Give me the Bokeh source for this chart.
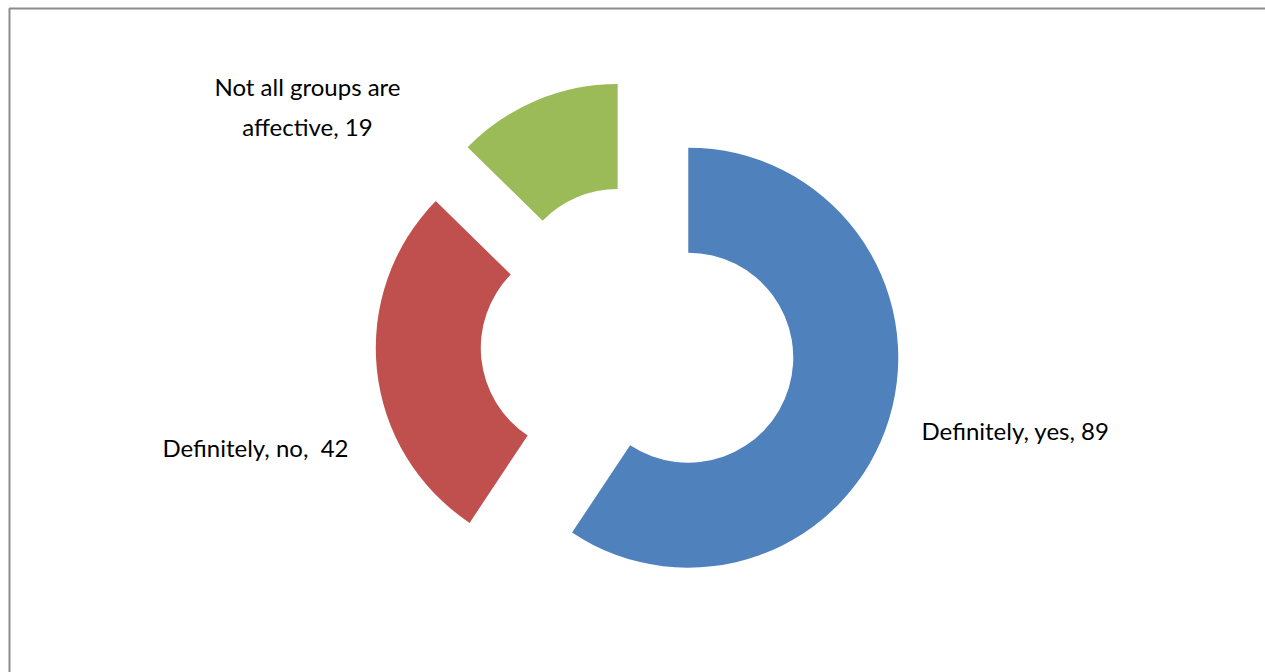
import math
from bokeh.plotting import figure
from bokeh.models import Range1d, ColumnDataSource
from bokeh.core.properties import value
from bokeh.embed import file_html
from bokeh.resources import INLINE

# ---- data ----
categories = ["Definitely, yes", "Definitely, no", "Not all groups are affective"]
values = [89, 42, 19]
label_texts = ["Definitely, yes, 89", "Definitely, no,\u00a0 42", "Not all groups are\naffective, 19"]
colors = ["#4F81BD", "#C0504D", "#9BBB59"]

# ---- layout ----
W, H = 1265, 672
cx, cy = 637.5, 330.0          # donut centre (pixel-like data units)
r_in, r_out = 105.0, 210.0
explode = 52.5
# label anchors: (x, y, align)
label_pos = [(921, 242, "left"), (348, 225, "right"), (307, 566, "center")]

total = float(sum(values))
starts, ends, xs, ys = [], [], [], []
a = math.pi / 2
for v in values:
    sweep = 2 * math.pi * v / total
    s, e = a, a - sweep
    mid = (s + e) / 2
    starts.append(s)
    ends.append(e)
    xs.append(cx + explode * math.cos(mid))
    ys.append(cy + explode * math.sin(mid))
    a = e

src = ColumnDataSource(dict(x=xs, y=ys, start=starts, end=ends, color=colors, cat=categories))

p = figure(width=W, height=H, output_backend="svg", toolbar_location=None,
           x_range=Range1d(0, W), y_range=Range1d(0, H), min_border=0,
           outline_line_color=None, background_fill_color="white")
p.axis.visible = False
p.grid.visible = False

p.annular_wedge(x="x", y="y", inner_radius=r_in, outer_radius=r_out,
                start_angle="start", end_angle="end", direction="clock",
                fill_color="color", line_color=None, source=src)

for txt, (lx, ly, al) in zip(label_texts, label_pos):
    p.text(x=[lx], y=[ly], text=[txt], text_font=value("Lato"), text_font_size="24px",
           text_color="black", text_align=al, text_baseline="middle", text_line_height=1.37)

# chart frame (only left and top edges fall inside the window)
fx, fy = 9, H - 8
p.line(x=[fx, fx, W], y=[0, fy, fy], line_color="#8C8C8C", line_width=2)

open("out.html", "w").write(file_html(p, INLINE))
